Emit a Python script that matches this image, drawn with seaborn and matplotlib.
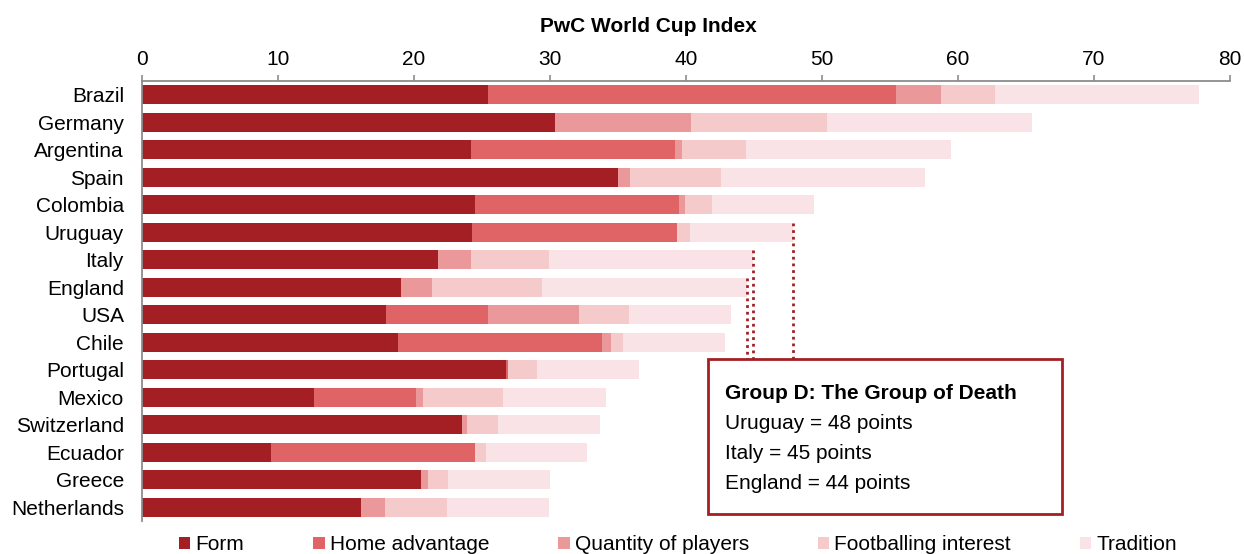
import matplotlib
matplotlib.use("Agg")
import matplotlib.pyplot as plt
from matplotlib.patches import Rectangle, Patch
import seaborn as sns
import numpy as np
import pandas as pd

countries = ["Brazil", "Germany", "Argentina", "Spain", "Colombia", "Uruguay", "Italy",
             "England", "USA", "Chile", "Portugal", "Mexico", "Switzerland", "Ecuador",
             "Greece", "Netherlands"]
form = [25.45, 30.4, 24.2, 35.0, 24.5, 24.3, 21.75, 19.05, 17.95, 18.8, 26.75, 12.65, 23.55, 9.5, 20.5, 16.1]
home = [30.0, 0.0, 15.0, 0.0, 15.0, 15.05, 0.0, 0.0, 7.5, 15.0, 0.15, 7.5, 0.0, 15.0, 0.0, 0.0]
quantity = [3.3, 10.0, 0.5, 0.9, 0.45, 0.0, 2.45, 2.3, 6.65, 0.65, 0.0, 0.5, 0.35, 0.0, 0.5, 1.8]
football = [3.95, 10.0, 4.7, 6.65, 1.95, 0.95, 5.7, 8.05, 3.7, 0.95, 2.15, 5.9, 2.3, 0.8, 1.5, 4.5]
tradition = [15.0, 15.05, 15.05, 15.05, 7.5, 7.55, 15.05, 15.05, 7.5, 7.5, 7.5, 7.55, 7.5, 7.45, 7.5, 7.5]

series_names = ["Form", "Home advantage", "Quantity of players", "Footballing interest", "Tradition"]
colors = ["#A31F23", "#E06466", "#EA989A", "#F4CACB", "#F9E3E6"]

group_d = ["Uruguay", "Italy", "England"]
box_title = "Group D: The Group of Death"
box_lines = ["Uruguay = 48 points", "Italy = 45 points", "England = 44 points"]

xticks = [0, 10, 20, 30, 40, 50, 60, 70, 80]
title = "PwC World Cup Index"

sns.set_style("white")
plt.rcParams["font.family"] = ["Liberation Sans", "DejaVu Sans"]
plt.rcParams["text.color"] = "black"
plt.rcParams["xtick.labelcolor"] = "black"
plt.rcParams["ytick.labelcolor"] = "black"

df = pd.DataFrame({"country": countries, "Form": form, "Home advantage": home,
                   "Quantity of players": quantity, "Footballing interest": football,
                   "Tradition": tradition})
cum = df[series_names].cumsum(axis=1)

fig = plt.figure(figsize=(12.44, 5.54), dpi=100)
ax = fig.add_axes([142 / 1244, 1 - 521 / 554, (1230 - 142) / 1244, (521 - 81) / 554])

for name, col in reversed(list(zip(series_names, colors))):
    sns.barplot(x=cum[name], y=df["country"], orient="h", color=col, width=0.7,
                ax=ax, saturation=1, linewidth=0)

ax.set_xlim(0, 80)
ax.set_ylim(len(countries) - 0.5, -0.5)
ax.set_xlabel("")
ax.set_ylabel("")

ax.xaxis.tick_top()
ax.set_xticks(xticks)
ax.set_xticklabels([str(v) for v in xticks], fontsize=15, color="black")
ax.tick_params(axis="x", which="major", direction="out", length=4, width=1.2,
               color="#8c8c8c", pad=5)
ax.set_yticks(range(len(countries)))
ax.set_yticklabels(countries, fontsize=15, color="black")
ax.tick_params(axis="y", which="major", length=0, pad=13)
ax.set_yticks(np.arange(-0.5, len(countries) + 0.5, 1), minor=True)
ax.tick_params(axis="y", which="minor", direction="out", length=5, width=1.2, color="#8c8c8c")

for s in ["right", "bottom"]:
    ax.spines[s].set_visible(False)
for s in ["left", "top"]:
    ax.spines[s].set_color("#8c8c8c")
    ax.spines[s].set_linewidth(1.3)

fig.text(648 / 1244, 1 - 26 / 554, title, fontsize=15, fontweight="bold",
         ha="center", va="center", color="black")

# annotation box
red = "#A31F23"
box_x0, box_x1 = 41.6, 67.65
box_y0, box_y1 = 9.62, 15.25
totals = cum["Tradition"].values
for c in group_d:
    i = countries.index(c)
    ax.plot([totals[i], totals[i]], [i - 0.35, box_y0], ls=(0, (1, 1.4)), color=red,
            lw=2, clip_on=False, zorder=5)
ax.add_patch(Rectangle((box_x0, box_y0), box_x1 - box_x0, box_y1 - box_y0,
                       facecolor="white", edgecolor=red, lw=2, zorder=6, clip_on=False))
tx = 42.9
ax.text(tx, 10.86, box_title, fontsize=15, fontweight="bold", va="center", ha="left",
        zorder=7, color="black")
for k, line in enumerate(box_lines):
    ax.text(tx, 11.96 + k * 1.09, line, fontsize=15, va="center", ha="left", zorder=7,
            color="black")

handles = [Patch(facecolor=c, edgecolor="none", label=n) for n, c in zip(series_names, colors)]
leg = fig.legend(handles=handles, loc="center", bbox_to_anchor=(678 / 1244, 1 - 545 / 554),
                 ncol=5, frameon=False, fontsize=15, handlelength=0.55, handleheight=0.55,
                 handletextpad=0.25, columnspacing=3.3, borderpad=0, borderaxespad=0)
for t in leg.get_texts():
    t.set_color("black")

fig.savefig("out.png", dpi=100)
